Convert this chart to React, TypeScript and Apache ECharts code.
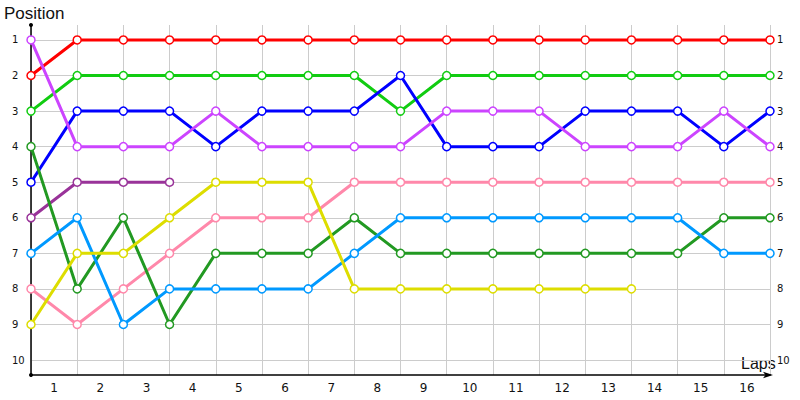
import React, { useEffect, useRef } from "react";
import * as echarts from "echarts";

const lapLabels = ["1", "2", "3", "4", "5", "6", "7", "8", "9", "10", "11", "12", "13", "14", "15", "16"];
const positionTicks = [1, 2, 3, 4, 5, 6, 7, 8, 9, 10];

const red = [2, 1, 1, 1, 1, 1, 1, 1, 1, 1, 1, 1, 1, 1, 1, 1, 1];
const green = [3, 2, 2, 2, 2, 2, 2, 2, 3, 2, 2, 2, 2, 2, 2, 2, 2];
const blue = [5, 3, 3, 3, 4, 3, 3, 3, 2, 4, 4, 4, 3, 3, 3, 4, 3];
const violet = [1, 4, 4, 4, 3, 4, 4, 4, 4, 3, 3, 3, 4, 4, 4, 3, 4];
const purple = [6, 5, 5, 5];
const pink = [8, 9, 8, 7, 6, 6, 6, 5, 5, 5, 5, 5, 5, 5, 5, 5, 5];
const darkGreen = [4, 8, 6, 9, 7, 7, 7, 6, 7, 7, 7, 7, 7, 7, 7, 6, 6];
const lightBlue = [7, 6, 9, 8, 8, 8, 8, 7, 6, 6, 6, 6, 6, 6, 6, 7, 7];
const yellow = [9, 7, 7, 6, 5, 5, 5, 8, 8, 8, 8, 8, 8, 8];

const seriesDefs: [string, number[]][] = [
  ["#ff0000", red],
  ["#11cc11", green],
  ["#0000ff", blue],
  ["#cc44ff", violet],
  ["#993399", purple],
  ["#ff88aa", pink],
  ["#229922", darkGreen],
  ["#0099ff", lightBlue],
  ["#dddd00", yellow],
];

export default function App() {
  const ref = useRef<HTMLDivElement>(null);
  useEffect(() => {
    if (!ref.current) return;
    const chart = echarts.init(ref.current, undefined, { renderer: "svg" });
    const labelFont = { fontFamily: "DejaVu Sans", fontSize: 10, color: "#111" };
    chart.setOption({
      animation: false,
      backgroundColor: "#ffffff",
      grid: { left: 31, right: 30, top: 25, bottom: 25, containLabel: false },
      graphic: [
        {
          type: "text",
          left: 4,
          top: 5,
          style: { text: "Position", fontFamily: "Liberation Sans", fontSize: 17, fill: "#111" },
        },
        {
          type: "text",
          left: 741,
          top: 355,
          style: { text: "Laps", fontFamily: "Liberation Sans", fontSize: 16, fill: "#111" },
        },
      ],
      xAxis: [
        {
          type: "value",
          min: 0,
          max: 16,
          interval: 1,
          position: "bottom",
          axisLine: {
            show: true,
            onZero: false,
            lineStyle: { color: "#000", width: 1.5 },
            symbol: ["none", "arrow"],
            symbolSize: [5, 10],
            symbolOffset: [0, 3],
          },
          axisTick: { show: false },
          axisLabel: { show: false },
          splitLine: { show: true, lineStyle: { color: "#cccccc", width: 1 } },
        },
        {
          type: "category",
          data: lapLabels,
          boundaryGap: true,
          position: "bottom",
          offset: 0,
          axisLine: { show: false },
          axisTick: { show: false },
          splitLine: { show: false },
          axisLabel: { fontFamily: "DejaVu Sans", fontSize: 12, color: "#111", margin: 7 },
        },
      ],
      yAxis: [
        {
          type: "value",
          inverse: true,
          min: 0.58,
          max: 10.42,
          position: "left",
          axisLine: {
            show: true,
            onZero: false,
            lineStyle: { color: "#000", width: 1.5 },
            symbol: ["circle", "circle"],
            symbolSize: [4, 4],
          },
          axisTick: { show: false, customValues: positionTicks },
          axisLabel: { ...labelFont, customValues: positionTicks, align: "left", margin: 19 },
          splitLine: { show: true, lineStyle: { color: "#cccccc", width: 1 } },
        },
        {
          type: "value",
          inverse: true,
          min: 0.58,
          max: 10.42,
          position: "right",
          axisLine: { show: false },
          axisTick: { show: false, customValues: positionTicks },
          axisLabel: { ...labelFont, customValues: positionTicks, align: "left", margin: 7 },
          splitLine: { show: false },
        },
      ],
      series: seriesDefs.map(([color, values]) => ({
        type: "line",
        xAxisIndex: 0,
        yAxisIndex: 0,
        data: values.map((v, i) => [i, v]),
        symbol: "circle",
        symbolSize: 8,
        showSymbol: true,
        lineStyle: { color, width: 3 },
        itemStyle: { color: "#ffffff", borderColor: color, borderWidth: 1.5 },
        emphasis: { disabled: true },
        silent: true,
      })),
    });
    return () => chart.dispose();
  }, []);
  return (
    <div
      ref={ref}
      style={{ position: "absolute", left: 0, top: 0, width: 800, height: 400 }}
    />
  );
}
